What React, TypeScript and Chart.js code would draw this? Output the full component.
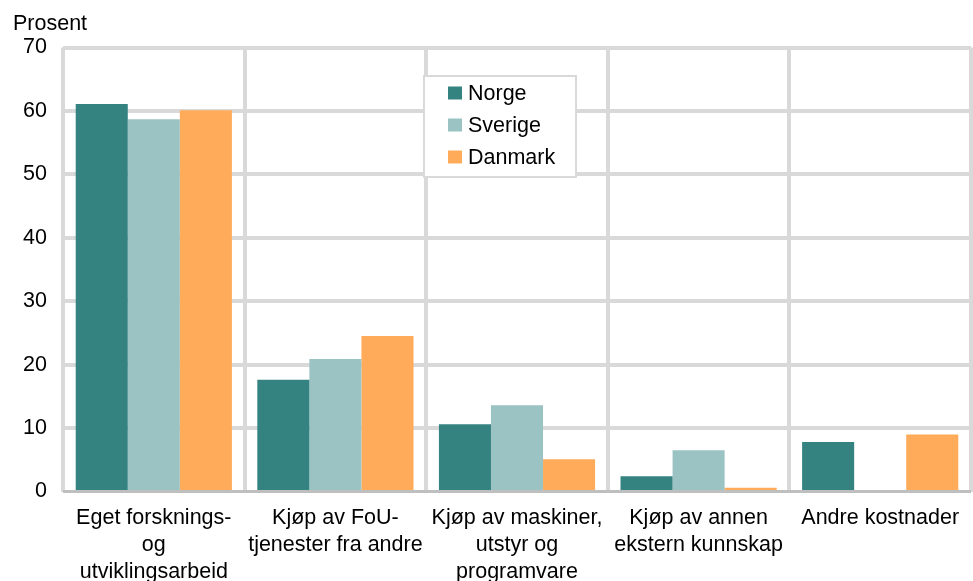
import React, { useEffect, useRef } from "react";
import { Chart, registerables } from "chart.js";

Chart.register(...registerables);

const categories: string[][] = [
  ["Eget forsknings-", "og", "utviklingsarbeid"],
  ["Kjøp av FoU-", "tjenester fra andre"],
  ["Kjøp av maskiner,", "utstyr og", "programvare"],
  ["Kjøp av annen", "ekstern kunnskap"],
  ["Andre kostnader"],
];
const seriesNames = ["Norge", "Sverige", "Danmark"];
const norge = [61.1, 17.6, 10.6, 2.4, 7.8];
const sverige = [58.7, 20.9, 13.6, 6.5, 0];
const danmark = [60.1, 24.5, 5.1, 0.6, 9.0];
const seriesColors = ["#348381", "#9BC3C3", "#FFAB5A"];
const yMin = 0;
const yMax = 70;
const yStep = 10;
const yAxisTitle = "Prosent";

const FONT = "'Liberation Sans', Arial, Helvetica, sans-serif";
const FS = 21.5;

const overlayPlugin = {
  id: "overlay",
  afterDraw(chart: any) {
    const ctx = chart.ctx;
    ctx.save();
    ctx.font = `${FS}px ${FONT}`;
    ctx.fillStyle = "#000";
    ctx.textAlign = "left";
    ctx.textBaseline = "alphabetic";
    ctx.fillText(yAxisTitle, 13, 30);

    const bx = 424, by = 76, bw = 152, bh = 101;
    ctx.fillStyle = "#ffffff";
    ctx.fillRect(bx, by, bw, bh);
    ctx.strokeStyle = "#d9d9d9";
    ctx.lineWidth = 2;
    ctx.strokeRect(bx, by, bw, bh);
    chart.data.datasets.forEach((ds: any, i: number) => {
      const cy = 93 + i * 32;
      ctx.fillStyle = ds.backgroundColor;
      ctx.fillRect(448, cy - 6.5, 14, 13);
      ctx.fillStyle = "#000";
      ctx.textBaseline = "middle";
      ctx.fillText(ds.label, 468, cy + 1);
    });
    ctx.restore();
  },
};

export default function App() {
  const ref = useRef<HTMLCanvasElement | null>(null);
  useEffect(() => {
    if (!ref.current) return;
    const values = [norge, sverige, danmark];
    const chart = new Chart(ref.current, {
      type: "bar",
      data: {
        labels: categories,
        datasets: seriesNames.map((name, i) => ({
          label: name,
          data: values[i],
          backgroundColor: seriesColors[i],
          borderWidth: 0,
          categoryPercentage: 0.86,
          barPercentage: 1,
        })),
      },
      options: {
        animation: false,
        responsive: false,
        devicePixelRatio: 1,
        layout: { padding: { top: 47.5, right: 2, left: 0, bottom: 0 } },
        plugins: {
          legend: { display: false },
          tooltip: { enabled: false },
          title: { display: false },
        },
        scales: {
          x: {
            offset: true,
            grid: {
              offset: true,
              color: "#d9d9d9",
              lineWidth: 4,
              drawTicks: false,
            },
            border: { display: false },
            ticks: {
              color: "#000",
              font: { family: FONT, size: FS, lineHeight: "27px" },
              padding: 13,
              maxRotation: 0,
              autoSkip: false,
            },
            afterFit: (scale: any) => {
              scale.height = 89.5;
            },
          },
          y: {
            min: yMin,
            max: yMax,
            grid: {
              color: (c: any) => (c.tick && c.tick.value === 0 ? "#bfbfbf" : "#d9d9d9"),
              lineWidth: (c: any) => (c.tick && c.tick.value === 0 ? 3 : 4),
              drawTicks: false,
            },
            border: { display: false },
            ticks: {
              stepSize: yStep,
              color: "#000",
              font: { family: FONT, size: FS },
              padding: 16,
            },
            afterFit: (scale: any) => {
              scale.width = 63;
            },
          },
        },
      },
      plugins: [overlayPlugin],
    });
    return () => chart.destroy();
  }, []);
  return (
    <div style={{ position: "fixed", left: 0, top: 0, width: 973, height: 581, background: "#fff" }}>
      <canvas ref={ref} width={973} height={581} />
    </div>
  );
}
